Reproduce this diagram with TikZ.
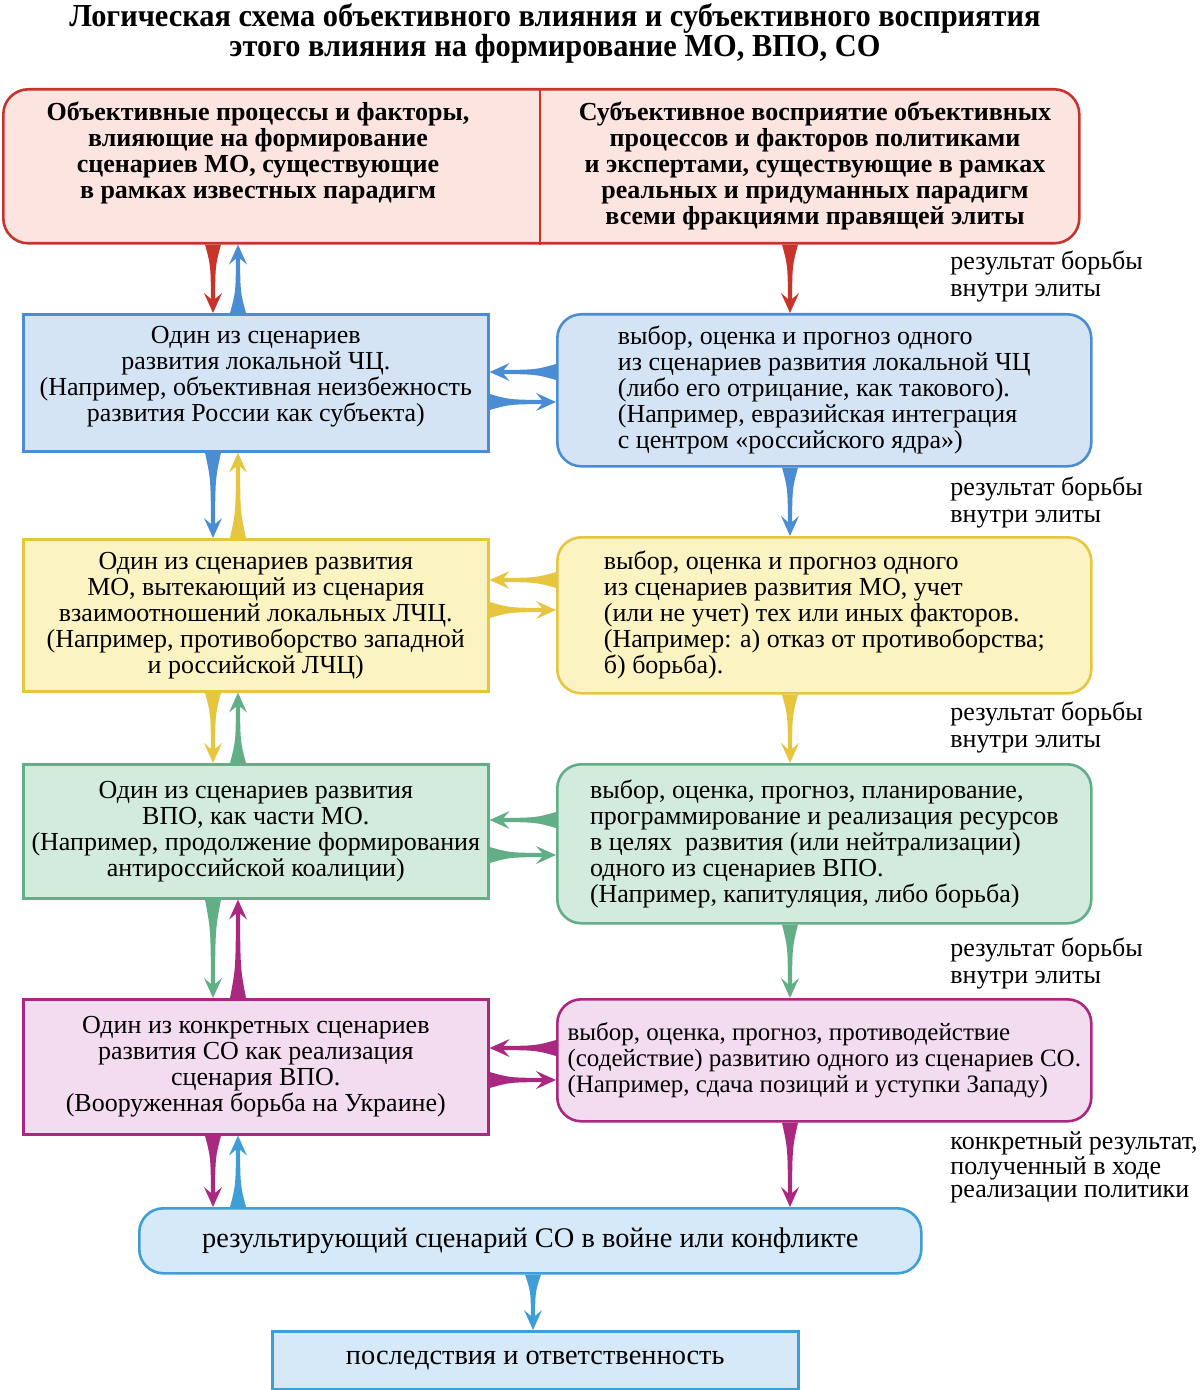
\documentclass[tikz,border=0pt]{standalone}
\usepackage{fontspec}
\setmainfont{Liberation Serif}
\newfontfamily\titlefont[FakeStretch=0.95]{Liberation Serif}
\usetikzlibrary{calc}

\definecolor{redB}{HTML}{C7342B}\definecolor{redF}{HTML}{FCE4E0}
\definecolor{bluB}{HTML}{4B8DD3}\definecolor{bluF}{HTML}{D4E4F5}
\definecolor{yelB}{HTML}{E6C53F}\definecolor{yelF}{HTML}{FBF3C2}
\definecolor{grnB}{HTML}{62AE86}\definecolor{grnF}{HTML}{D2EBDC}
\definecolor{magB}{HTML}{A8297F}\definecolor{magF}{HTML}{F3DCEF}
\definecolor{cynB}{HTML}{3F9ED6}\definecolor{cynF}{HTML}{D5E9F8}

% сужающаяся стрелка: цвет, начало, конец
\newcommand{\taper}[3]{%
  \coordinate (ta) at #2;
  \coordinate (tb) at #3;
  \fill[#1] ($(ta)!4pt!90:(tb)$)
    .. controls ($(ta)!0.3!(tb)!1.2pt!90:(tb)$) .. ($(tb)!7pt!(ta)!1pt!90:(tb)$)
    -- ($(tb)!10pt!(ta)!4.5pt!90:(tb)$) -- (tb)
    -- ($(tb)!10pt!(ta)!4.5pt!-90:(tb)$) -- ($(tb)!7pt!(ta)!1pt!-90:(tb)$)
    .. controls ($(ta)!0.3!(tb)!1.2pt!-90:(tb)$) .. ($(ta)!4pt!-90:(tb)$) -- cycle;
}

\tikzset{
  txt/.style={font=\fontsize{13}{13}\selectfont},
  lbox/.style 2 args={draw=#1, fill=#2, line width=1.3pt, txt, align=center,
    minimum width=232.5pt, inner sep=0pt, anchor=north west},
  rbox/.style 2 args={draw=#1, fill=#2, line width=1.3pt, txt, align=left,
    rounded corners=12pt, minimum width=267pt, inner sep=0pt, anchor=north west},
  note/.style={txt, align=left, anchor=north west, inner sep=0pt},
}

\begin{document}
\begin{tikzpicture}[x=0.5pt, y=-0.5pt]
  \useasboundingbox (0,0) rectangle (1200,1390);

  % колонки стрелок
  \coordinate (cA) at (213,0);
  \coordinate (cB) at (238,0);
  \coordinate (cR) at (790,0);
  \coordinate (cM) at (533,0);
  \coordinate (dv) at (540,0);

  % заголовок
  \node[align=center, font=\titlefont\bfseries\fontsize{16}{15}\selectfont] (title) at (555,33)
    {Логическая схема объективного влияния и субъективного восприятия\\
     этого влияния на формирование МО, ВПО, СО};

  % верхний блок
  \node[draw=redB, fill=redF, line width=1.3pt, rounded corners=12.5pt,
        minimum width=538pt, minimum height=77pt, anchor=north west] (top) at (2,88) {};
  \draw[redB, line width=1pt] (top.north -| dv) -- (top.south -| dv);
  \node[txt, font=\bfseries\fontsize{13}{13}\selectfont, align=center, anchor=north, inner sep=0pt] (obj) at (258,101)
    {Объективные процессы и факторы,\\ влияющие на формирование\\
     сценариев МО, существующие\\ в рамках известных парадигм};
  \node[txt, font=\bfseries\fontsize{13}{13}\selectfont, align=center, anchor=north, inner sep=0pt] (subj) at (815,101)
    {Субъективное восприятие объективных\\ процессов и факторов политиками\\
     и экспертами, существующие в рамках\\ реальных и придуманных парадигм\\
     всеми фракциями правящей элиты};

  % ряд 1
  \node[lbox={bluB}{bluF}, minimum height=68.5pt, text depth=9pt] (r1l) at (22,313)
    {Один из сценариев\\ развития локальной ЧЦ.\\ (Например, объективная неизбежность\\
     развития России как субъекта)};
  \node[rbox={bluB}{bluF}, minimum height=76pt] (r1r) at (556,313)
    {выбор, оценка и прогноз одного\\ из сценариев развития локальной ЧЦ\\
     (либо его отрицание, как такового).\\ (Например, евразийская интеграция\\
     с центром «российского ядра»)};

  % ряд 2
  \node[lbox={yelB}{yelF}, minimum height=76pt] (r2l) at (22,538)
    {Один из сценариев развития\\ МО, вытекающий из сценария\\ взаимоотношений локальных ЛЧЦ.\\
     (Например, противоборство западной\\ и российской ЛЧЦ)};
  \node[rbox={yelB}{yelF}, minimum height=78pt] (r2r) at (556,536)
    {выбор, оценка и прогноз одного\\ из сценариев развития МО, учет\\
     (или не учет) тех или иных факторов.\\ (Например: а) отказ от противоборства;\\
     б) борьба).};

  % ряд 3
  \node[lbox={grnB}{grnF}, minimum height=67pt] (r3l) at (22,763)
    {Один из сценариев развития\\ ВПО, как части МО.\\ (Например, продолжение формирования\\
     антироссийской коалиции)};
  \node[rbox={grnB}{grnF}, minimum height=79.5pt] (r3r) at (556,763)
    {выбор, оценка, прогноз, планирование,\\ программирование и реализация ресурсов\\
     в целях\ \ развития (или нейтрализации)\\ одного из сценариев ВПО.\\
     (Например, капитуляция, либо борьба)};

  % ряд 4
  \node[lbox={magB}{magF}, minimum height=67.5pt] (r4l) at (22,998)
    {Один из конкретных сценариев\\ развития СО как реализация\\ сценария ВПО.\\
     (Вооруженная борьба на Украине)};
  \node[rbox={magB}{magF}, minimum height=61pt, font=\fontsize{12.5}{13}\selectfont] (r4r) at (556,998)
    {выбор, оценка, прогноз, противодействие\\ (содействие) развитию одного из сценариев СО.\\
     (Например, сдача позиций и уступки Западу)};

  % итог
  \node[draw=cynB, fill=cynF, line width=1.3pt, rounded corners=12pt, minimum width=391pt,
        minimum height=32.5pt, anchor=north west, font=\fontsize{14.2}{15}\selectfont] (res) at (138,1207)
    {результирующий сценарий СО в войне или конфликте};
  \node[draw=cynB, fill=cynF, line width=1.3pt, minimum width=263pt,
        minimum height=29pt, anchor=north west, font=\fontsize{14.2}{15}\selectfont] (fin) at (271,1330)
    {последствия и ответственность};

  % подписи справа
  \node[note, font=\fontsize{13}{13.5}\selectfont] (n1) at (950,250) {результат борьбы\\ внутри элиты};
  \node[note, font=\fontsize{13}{13.5}\selectfont] (n2) at (950,476) {результат борьбы\\ внутри элиты};
  \node[note, font=\fontsize{13}{13.5}\selectfont] (n3) at (950,701) {результат борьбы\\ внутри элиты};
  \node[note, font=\fontsize{13}{13.5}\selectfont] (n4) at (950,937) {результат борьбы\\ внутри элиты};
  \node[note, font=\fontsize{13}{11.5}\selectfont] (n5) at (950,1131)
    {конкретный результат,\\ полученный в ходе\\ реализации политики};

  % строки горизонтальных стрелок
  \coordinate (h1a) at (0,372); \coordinate (h1b) at (0,402);
  \coordinate (h2a) at (0,580); \coordinate (h2b) at (0,610);
  \coordinate (h3a) at (0,820); \coordinate (h3b) at (0,855);
  \coordinate (h4a) at (0,1048); \coordinate (h4b) at (0,1080);

  % стрелки
  \taper{redB}{(top.south -| cA)}{(r1l.north -| cA)}
  \taper{bluB}{(r1l.north -| cB)}{(top.south -| cB)}
  \taper{redB}{(top.south -| cR)}{(r1r.north -| cR)}
  \taper{bluB}{(r1r.west |- h1a)}{(r1l.east |- h1a)}
  \taper{bluB}{(r1l.east |- h1b)}{(r1r.west |- h1b)}

  \taper{bluB}{(r1l.south -| cA)}{(r2l.north -| cA)}
  \taper{yelB}{(r2l.north -| cB)}{(r1l.south -| cB)}
  \taper{bluB}{(r1r.south -| cR)}{(r2r.north -| cR)}
  \taper{yelB}{(r2r.west |- h2a)}{(r2l.east |- h2a)}
  \taper{yelB}{(r2l.east |- h2b)}{(r2r.west |- h2b)}

  \taper{yelB}{(r2l.south -| cA)}{(r3l.north -| cA)}
  \taper{grnB}{(r3l.north -| cB)}{(r2l.south -| cB)}
  \taper{yelB}{(r2r.south -| cR)}{(r3r.north -| cR)}
  \taper{grnB}{(r3r.west |- h3a)}{(r3l.east |- h3a)}
  \taper{grnB}{(r3l.east |- h3b)}{(r3r.west |- h3b)}

  \taper{grnB}{(r3l.south -| cA)}{(r4l.north -| cA)}
  \taper{magB}{(r4l.north -| cB)}{(r3l.south -| cB)}
  \taper{grnB}{(r3r.south -| cR)}{(r4r.north -| cR)}
  \taper{magB}{(r4r.west |- h4a)}{(r4l.east |- h4a)}
  \taper{magB}{(r4l.east |- h4b)}{(r4r.west |- h4b)}

  \taper{magB}{(r4l.south -| cA)}{(res.north -| cA)}
  \taper{cynB}{(res.north -| cB)}{(r4l.south -| cB)}
  \taper{magB}{(r4r.south -| cR)}{(res.north -| cR)}
  \taper{cynB}{(res.south -| cM)}{(fin.north -| cM)}
\end{tikzpicture}
\end{document}
